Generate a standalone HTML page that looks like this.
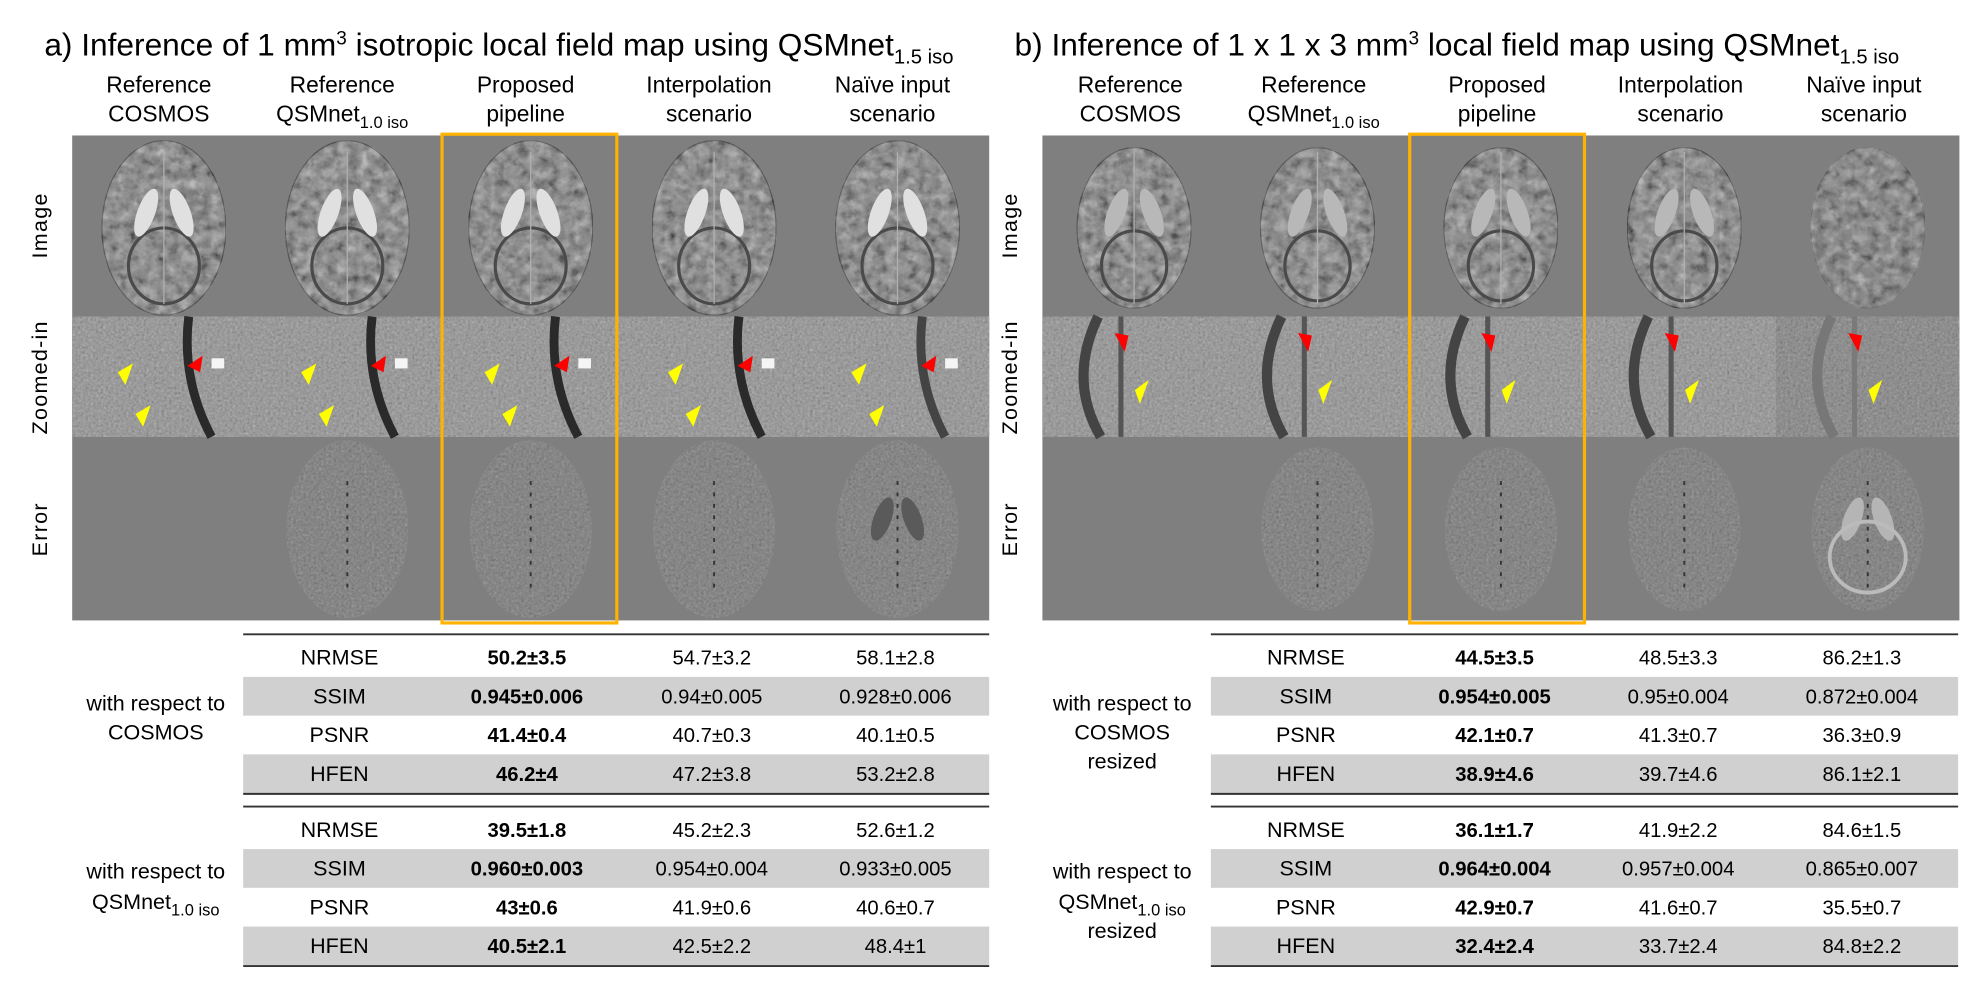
<!DOCTYPE html>
<html><head><meta charset="utf-8">
<style>
html,body{margin:0;padding:0;background:#fff;width:1986px;height:999px;overflow:hidden}
#wrap{width:1568px;height:789px;transform:scale(1.26658,1.26616);transform-origin:0 0;position:absolute;left:0;top:0}
svg text{font-family:"Liberation Sans Narrow","Liberation Sans",sans-serif;fill:#000}
</style></head><body>
<div id="wrap">
<svg id="fig" width="1568" height="789" viewBox="0 0 1568 789" xmlns="http://www.w3.org/2000/svg">
<defs>
<filter id="tex" x="0" y="0" width="100%" height="100%">
<feTurbulence type="fractalNoise" baseFrequency="0.12" numOctaves="3" seed="3" result="n"/>
<feColorMatrix in="n" type="saturate" values="0" result="gs"/>
<feComponentTransfer in="gs" result="gc"><feFuncR type="linear" slope="2.2" intercept="-0.6"/><feFuncG type="linear" slope="2.2" intercept="-0.6"/><feFuncB type="linear" slope="2.2" intercept="-0.6"/></feComponentTransfer>
<feComposite in="gc" in2="SourceGraphic" operator="in" result="c"/>
<feBlend in="c" in2="SourceGraphic" mode="overlay"/>
</filter>
<filter id="tex2" x="0" y="0" width="100%" height="100%">
<feTurbulence type="fractalNoise" baseFrequency="0.5" numOctaves="2" seed="7" result="n"/>
<feColorMatrix in="n" type="saturate" values="0" result="gs"/>
<feComposite in="gs" in2="SourceGraphic" operator="in" result="c"/>
<feBlend in="c" in2="SourceGraphic" mode="overlay"/>
</filter>
</defs>
<g id="content"></g>
</svg>
</div>
<script>
const panelX=[57,823];
const colW=144.8;
const titles=["a) Inference of 1 mm","b) Inference of 1 x 1 x 3 mm"];
const titleTails=[" isotropic local field map using QSMnet"," local field map using QSMnet"];
const metrics=["NRMSE","SSIM","PSNR","HFEN"];
const valsA1=[["50.2±3.5","54.7±3.2","58.1±2.8"],["0.945±0.006","0.94±0.005","0.928±0.006"],["41.4±0.4","40.7±0.3","40.1±0.5"],["46.2±4","47.2±3.8","53.2±2.8"]];
const valsA2=[["39.5±1.8","45.2±2.3","52.6±1.2"],["0.960±0.003","0.954±0.004","0.933±0.005"],["43±0.6","41.9±0.6","40.6±0.7"],["40.5±2.1","42.5±2.2","48.4±1"]];
const valsB1=[["44.5±3.5","48.5±3.3","86.2±1.3"],["0.954±0.005","0.95±0.004","0.872±0.004"],["42.1±0.7","41.3±0.7","36.3±0.9"],["38.9±4.6","39.7±4.6","86.1±2.1"]];
const valsB2=[["36.1±1.7","41.9±2.2","84.6±1.5"],["0.964±0.004","0.957±0.004","0.865±0.007"],["42.9±0.7","41.6±0.7","35.5±0.7"],["32.4±2.4","33.7±2.4","84.8±2.2"]];
const NS="http://www.w3.org/2000/svg";
const root=document.getElementById('content');
function mk(tag,attrs,parent,txt){const e=document.createElementNS(NS,tag);for(const k in attrs)e.setAttribute(k,attrs[k]);if(txt!==undefined)e.textContent=txt;(parent||root).appendChild(e);return e;}
function txt(x,y,s,size,parent,anchor,weight){return mk('text',{x:x,y:y,'font-size':size,'text-anchor':anchor||'middle','font-weight':weight||'normal'},parent,s);}

for(let p=0;p<2;p++){
  const px=panelX[p];
  const g=mk('g',{});
  
  
  const t=mk('text',{x:px-22,y:44,'font-size':25,'text-anchor':'start'},g);
  
  
  mk('tspan',{},t,titles[p]);
  mk('tspan',{dy:-9,'font-size':15},t,'3');
  mk('tspan',{dy:9},t,titleTails[p]);
  mk('tspan',{dy:6,'font-size':16},t,'1.5 iso');
  const heads=[["Reference","COSMOS"],["Reference","QSMnet"],["Proposed","pipeline"],["Interpolation","scenario"],["Naïve input","scenario"]];
  for(let c=0;c<5;c++){
    const cx=px+colW*c+colW/2+(p?-3:-4);
    const h=mk('g',{},g);
    
    
    txt(cx,73,heads[c][0],18,h);
    if(c===1){const t2=mk('text',{x:cx,y:96,'font-size':18,'text-anchor':'middle'},h);mk('tspan',{},t2,'QSMnet');mk('tspan',{dy:5,'font-size':13},t2,'1.0 iso');}
    else txt(cx,96,heads[c][1],18,h);
  }
  const rl=[["Image",178],["Zoomed-in",298],["Error",418]];
  rl.forEach(r=>{const lx=px-20;const e=mk('text',{x:lx,y:r[1],'font-size':17,'text-anchor':'middle',transform:`rotate(-90 ${lx} ${r[1]})`,'letter-spacing':'1'},g,r[0]);
    });
  const bg=mk('rect',{x:px,y:107,width:724,height:383,fill:'#7f7f7f'},g);
  
  for(let c=0;c<5;c++){
    const x0=px+colW*c, cx=x0+colW/2;
    const bi=mk('g',{},g);
    
    const sc=p?0.92:1;
    const naive=p&&c===4;
    mk('ellipse',{cx:cx,cy:180,rx:49*sc,ry:69*sc,fill:naive?'#8a8a8a':'#8e8e8e',stroke:naive?'#777':'#5e5e5e','stroke-width':1,filter:'url(#tex)'},bi);
    if(!naive){
      mk('ellipse',{cx:cx,cy:210,rx:28*sc,ry:30*sc,fill:'none',stroke:'#4a4a4a','stroke-width':2.5},bi);
      mk('ellipse',{cx:cx-14,cy:168,rx:7,ry:20,fill:p?'#b8b8b8':'#e0e0e0',transform:`rotate(20 ${cx-14} 168)`},bi);
      mk('ellipse',{cx:cx+14,cy:168,rx:7,ry:20,fill:p?'#b8b8b8':'#e0e0e0',transform:`rotate(-20 ${cx+14} 168)`},bi);
      mk('line',{x1:cx,y1:120,x2:cx,y2:240,stroke:'#b0b0b0','stroke-width':1},bi);
    }
    const zi=mk('g',{},g);
    
    const zfill=naive?'#8e8e8e':'#9a9a9a';
    mk('rect',{x:x0,y:250,width:colW,height:95,fill:zfill,filter:'url(#tex2)'},zi);
    if(!p){
      mk('path',{d:`M${x0+92} 250 Q${x0+86} 300 ${x0+110} 345`,stroke:c===4?'#444':'#2a2a2a','stroke-width':7,fill:'none'},zi);
      mk('rect',{x:x0+110,y:283,width:10,height:8,fill:'#f5f5f5'},zi);
      mk('path',{d:`M${x0+103} 281 l-12 8 l10 5 z`,fill:'#ff0000'},zi);
      mk('path',{d:`M${x0+48} 287 l-12 7 l6 10 z`,fill:'#ffff00'},zi);
      mk('path',{d:`M${x0+62} 320 l-12 7 l6 10 z`,fill:'#ffff00'},zi);
    } else {
      mk('path',{d:`M${x0+44} 250 Q${x0+20} 300 ${x0+46} 345`,stroke:c===4?'#777':'#444','stroke-width':8,fill:'none'},zi);
      mk('path',{d:`M${x0+62} 250 L${x0+62} 345`,stroke:c===4?'#7a7a7a':'#555','stroke-width':4,fill:'none'},zi);
      mk('path',{d:`M${x0+57} 263 l8 15 l3 -13 z`,fill:'#ff0000'},zi);
      mk('path',{d:`M${x0+84} 300 l-11 8 l4 11 z`,fill:'#ffff00'},zi);
    }
    if(c>0){
      const be=mk('g',{},g);
      
      mk('ellipse',{cx:cx,cy:418,rx:48*sc,ry:70*sc,fill:'#868686',filter:'url(#tex2)'},be);
      if(c===4){
        const col=p?'#b5b5b5':'#5a5a5a';
        mk('ellipse',{cx:cx-12,cy:410,rx:7,ry:18,fill:col,transform:`rotate(20 ${cx-12} 410)`},be);
        mk('ellipse',{cx:cx+12,cy:410,rx:7,ry:18,fill:col,transform:`rotate(-20 ${cx+12} 410)`},be);
        if(p) mk('ellipse',{cx:cx,cy:440,rx:30,ry:28,fill:'none',stroke:'#bbb','stroke-width':3},be);
      }
      mk('line',{x1:cx,y1:380,x2:cx,y2:470,stroke:'#333','stroke-width':1.5,'stroke-dasharray':'3 6'},be);
    }
  }
  const ob=mk('rect',{x:px+colW*2+(p?0.4:2.4),y:106,width:138,height:386,fill:'none',stroke:'#ffb300','stroke-width':2.5},g);
  
  const tx=p?956:192, tw=p?590:589;
  const labX=p?1031:268;
  const valX=p?[1180,1325,1470]:[416,562,707];
  const blocks=p?[valsB1,valsB2]:[valsA1,valsA2];
  const tops=[501,637];
  blocks.forEach((vals,b)=>{
    const tb=mk('g',{},g);
    
    const top=tops[b];
    for(let r=0;r<4;r++){
      const ry=top+3+r*30.6;
      if(r%2===1) mk('rect',{x:tx,y:ry,width:tw,height:30.6,fill:'#d0d0d0'},tb);
      const cy=ry+21;
      const ml=txt(labX,cy,metrics[r],17,tb);
      
      for(let k=0;k<3;k++){
        const v=txt(valX[k],cy,vals[r][k],16,tb,'middle',k===0?'bold':'normal');
        
      }
    }
    mk('line',{x1:tx,y1:top,x2:tx+tw,y2:top,stroke:'#333','stroke-width':1.5},tb);
    mk('line',{x1:tx,y1:top+126,x2:tx+tw,y2:top+126,stroke:'#333','stroke-width':1.5},tb);
  });
  const sl=mk('g',{},g);
  
  const sx=p?886:123;
  if(!p){
    txt(sx,561,'with respect to',17,sl);txt(sx,584,'COSMOS',17,sl);
    txt(sx,694,'with respect to',17,sl);
    const q=mk('text',{x:sx,y:718,'font-size':17,'text-anchor':'middle'},sl);mk('tspan',{},q,'QSMnet');mk('tspan',{dy:5,'font-size':13},q,'1.0 iso');
  } else {
    txt(sx,561,'with respect to',17,sl);txt(sx,584,'COSMOS',17,sl);txt(sx,607,'resized',17,sl);
    txt(sx,694,'with respect to',17,sl);
    const q=mk('text',{x:sx,y:718,'font-size':17,'text-anchor':'middle'},sl);mk('tspan',{},q,'QSMnet');mk('tspan',{dy:5,'font-size':13},q,'1.0 iso');
    txt(sx,741,'resized',17,sl);
  }
}
</script>
</body></html>
